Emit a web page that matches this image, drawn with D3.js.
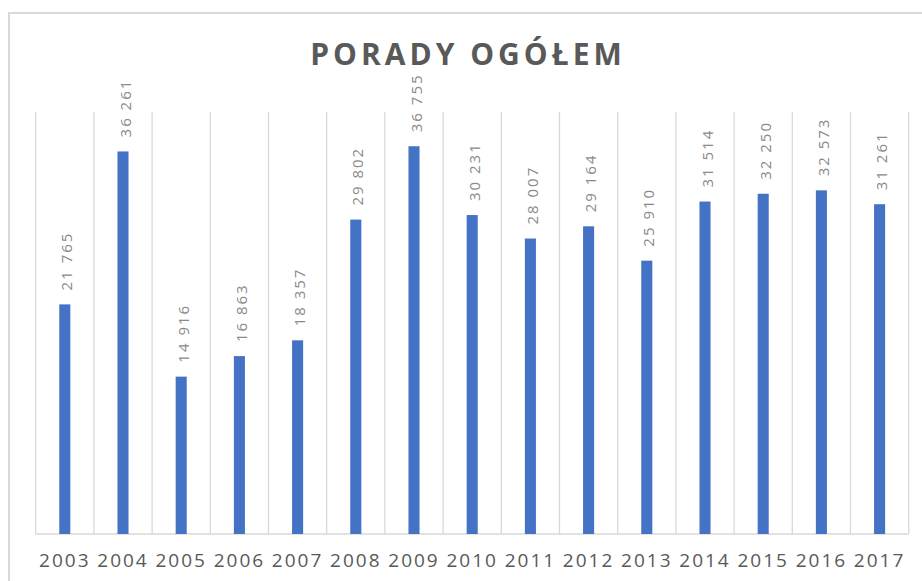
<!DOCTYPE html>
<html lang="pl">
<head>
<meta charset="UTF-8">
<title>Porady ogółem</title>
<script src="https://d3js.org/d3.v7.min.js"></script>
<style>
  body { margin: 0; background: #fff; }
  svg { display: block; }
  .title { font-family: "Open Sans", sans-serif; font-weight: bold; font-size: 30px; fill: #595959; letter-spacing: 4px; }
  .val { font-family: "Open Sans", sans-serif; font-size: 15px; fill: #8a8a8a; letter-spacing: 2px; }
  .year { font-family: "Open Sans", sans-serif; font-size: 19px; fill: #595959; letter-spacing: 2px; }
</style>
</head>
<body>
<svg width="922" height="581"></svg>
<script>
const years = ["2003", "2004", "2005", "2006", "2007", "2008", "2009", "2010",
               "2011", "2012", "2013", "2014", "2015", "2016", "2017"];
const porady = [21765, 36261, 14916, 16863, 18357, 29802, 36755, 30231,
                28007, 29164, 25910, 31514, 32250, 32573, 31261];
const title = "PORADY OGÓŁEM";

const svg = d3.select("svg");
const W = 922, H = 581;
const plot = { left: 35.7, right: 908.7, top: 112, bottom: 534 };

// chart frame (only top and left edges are visible in the picture)
svg.append("path")
  .attr("d", `M9,${H}V13H${W}`)
  .attr("fill", "none")
  .attr("stroke", "#d9d9d9")
  .attr("stroke-width", 2);

const x = d3.scaleBand().domain(years).range([plot.left, plot.right]).padding(0);
const y = d3.scaleLinear().domain([0, 40000]).range([plot.bottom, plot.top]);

// vertical gridlines between categories
const edges = years.map(d => x(d)).concat([x(years[years.length - 1]) + x.bandwidth()]);
svg.append("g").selectAll("line")
  .data(edges)
  .join("line")
  .attr("x1", d => d).attr("x2", d => d)
  .attr("y1", plot.top).attr("y2", plot.bottom)
  .attr("stroke", "#d9d9d9")
  .attr("stroke-width", 1.3);

svg.append("line")
  .attr("x1", plot.left).attr("x2", plot.right)
  .attr("y1", plot.bottom).attr("y2", plot.bottom)
  .attr("stroke", "#d9d9d9")
  .attr("stroke-width", 1.3);

const bw = x.bandwidth() * 0.19;
svg.append("g").selectAll("rect")
  .data(porady)
  .join("rect")
  .attr("x", (d, i) => x(years[i]) + x.bandwidth() / 2 - bw / 2)
  .attr("y", d => y(d))
  .attr("width", bw)
  .attr("height", d => y(0) - y(d))
  .attr("fill", "#4472c4");

const fmt = d3.format(",");
svg.append("g").selectAll("text")
  .data(porady)
  .join("text")
  .attr("class", "val")
  .attr("transform", (d, i) =>
    `translate(${x(years[i]) + x.bandwidth() / 2 + 7.5},${y(d) - 14}) rotate(-90)`)
  .text(d => fmt(d).replace(",", " "));

svg.append("g").selectAll("text")
  .data(years)
  .join("text")
  .attr("class", "year")
  .attr("x", d => x(d) + x.bandwidth() / 2)
  .attr("y", 567)
  .attr("text-anchor", "middle")
  .text(d => d);

svg.append("text")
  .attr("class", "title")
  .attr("x", 468)
  .attr("y", 65)
  .attr("text-anchor", "middle")
  .text(title);
</script>
</body>
</html>
